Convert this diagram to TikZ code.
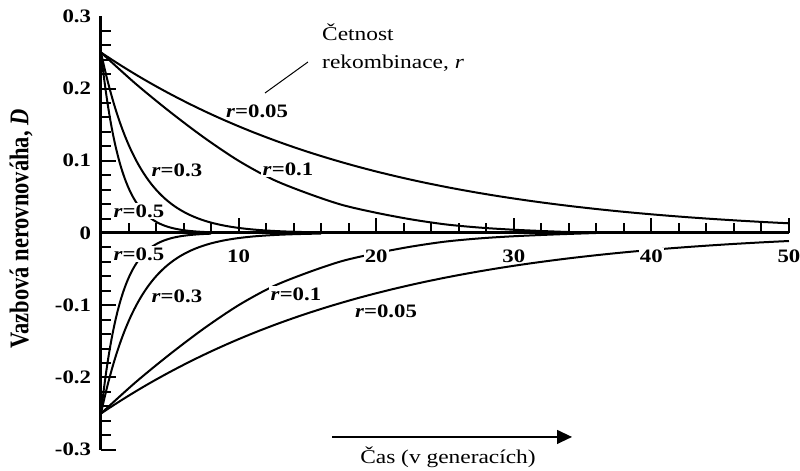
\documentclass[tikz,border=0pt]{standalone}
\usepackage{fontspec}
\setmainfont{Liberation Serif}
\usepackage{tikz}
\usetikzlibrary{arrows.meta}

\tikzset{
    axisline/.style={line width=3pt},
    tickline/.style={line width=2pt},
    curve/.style={line width=2pt, line join=round},
    ticklabel/.style={font=\fontsize{19}{22}\selectfont\bfseries, inner sep=1pt, xscale=1.2},
    rlabel/.style={font=\fontsize{19}{22}\selectfont\bfseries, fill=white, inner sep=1.5pt, xscale=1.2},
    note/.style={font=\fontsize{19.5}{23}\selectfont, inner sep=0pt, xscale=1.2},
    titlelabel/.style={font=\fontsize{22.5}{26}\selectfont\bfseries, inner sep=0pt, xscale=1.2, rotate=90}
}
\newcommand{\rval}[1]{\textit{r}=#1}

\begin{document}
\begin{tikzpicture}[x=13.76pt, y=722pt]
    \useasboundingbox (-7.34,-0.3283) rectangle (50.8,0.3227);
    \def \minor {10pt}
    \def \major {15pt}
    % axes and ticks
    \foreach \i in {-15,...,14}
        \draw[tickline] (0,\i*0.02) -- ++(\minor,0pt);
    \foreach \v in {-0.3,-0.2,-0.1,0.1,0.2}
        \draw[tickline] (0,\v) -- ++(\major,0pt);
    \foreach \i in {1,...,25}
        \draw[tickline] (2*\i,0) -- ++(0pt,\minor);
    \foreach \t in {10,20,...,50}
        \draw[tickline] (\t,0) -- ++(0pt,\major);
    \draw[axisline] (0,-0.3) -- (0,0.3);
    \draw[axisline] (0,0) -- (50,0);

    % decay of D for each r
    \foreach \r/\tmax in {0.5/8, 0.3/16}
    {
      \draw[curve] plot[domain=0:\tmax, samples=120, smooth] (\x, {0.25*(1-\r)^\x});
      \draw[curve] plot[domain=0:\tmax, samples=120, smooth] (\x, {-0.25*(1-\r)^\x});
    }
    \foreach \s in {1,-1}
      \draw[curve] plot[smooth] coordinates {(0,\s*0.25) (2.5,\s*0.207) (5,\s*0.168)
        (7.5,\s*0.132) (10,\s*0.100) (12.5,\s*0.074) (15,\s*0.055) (17.5,\s*0.039)
        (20,\s*0.028) (22.5,\s*0.019) (25,\s*0.012) (27.5,\s*0.0075) (30,\s*0.0045)
        (33,\s*0.002) (36,0)};
    \draw[curve] plot[domain=0:50, samples=100, smooth]
      (\x, {0.25*0.95^\x*(1-0.3*(\x/50)^2)});
    \draw[curve] plot[domain=0:50, samples=100, smooth]
      (\x, {-0.25*0.95^\x*(1-0.42*(\x/50)^2)});

    % labels
    \foreach \v [count=\k] in {0.3,0.2,0.1,0,-0.1,-0.2,-0.3}
        \node[ticklabel, anchor=east] (ytick\k) at (-0.62,\v) {\v};
    \foreach \t in {10,20,...,50}
        \node[ticklabel, fill=white, anchor=base] (xtick\t) at (\t,-0.0402) {\t};
    \node[rlabel] (up005) at (11.34,0.169) {\rval{0.05}};
    \node[rlabel] (up01) at (13.59,0.0886) {\rval{0.1}};
    \node[rlabel] (up03) at (5.52,0.0873) {\rval{0.3}};
    \node[rlabel] (up05) at (2.76,0.0305) {\rval{0.5}};
    \node[rlabel] (lo05) at (2.76,-0.029) {\rval{0.5}};
    \node[rlabel] (lo03) at (5.52,-0.0873) {\rval{0.3}};
    \node[rlabel] (lo01) at (14.17,-0.0845) {\rval{0.1}};
    \node[rlabel] (lo005) at (20.71,-0.109) {\rval{0.05}};
    \node[titlelabel] (ytitle) at (-5.81,0.0055) {Vazbová nerovnováha, \textit{D}};

    \node[note, anchor=base west] (note1) at (16.06,0.267) {Četnost};
    \node[note, anchor=base west] (note2) at (16.06,0.2285) {rekombinace, \textit{r}};
    \coordinate (leadtop) at (15.04,0.2368);
    \coordinate (leadend) at (11.92,0.1939);
    \draw[line width=1pt] (leadtop) -- (leadend);

    \coordinate (timestart) at (16.79,-0.2825);
    \coordinate (timeend) at (34.23,-0.2825);
    \draw[line width=1.3pt, -{Triangle[length=15pt, width=14pt]}] (timestart) -- (timeend);
    \node[note, anchor=base] (timelabel) at (25.22,-0.3186) {Čas (v generacích)};
\end{tikzpicture}
\end{document}
